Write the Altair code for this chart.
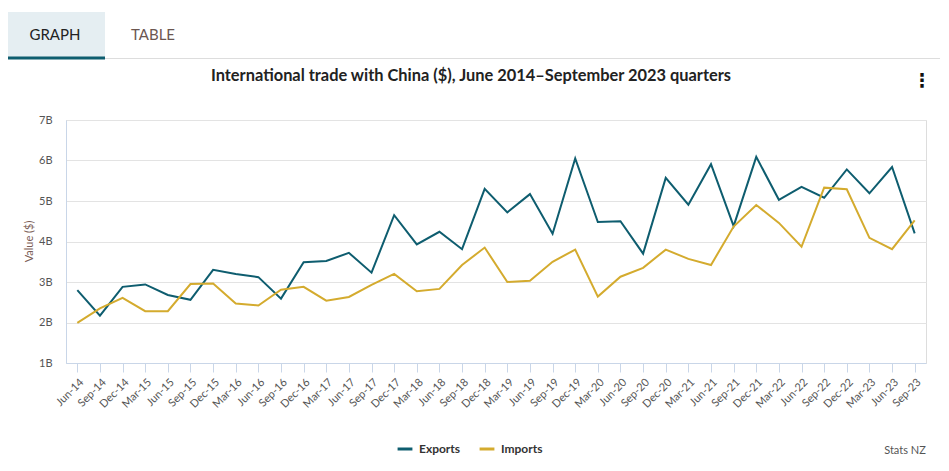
import altair as alt
import pandas as pd

quarters = ["Jun-14","Sep-14","Dec-14","Mar-15","Jun-15","Sep-15","Dec-15","Mar-16","Jun-16","Sep-16",
            "Dec-16","Mar-17","Jun-17","Sep-17","Dec-17","Mar-18","Jun-18","Sep-18","Dec-18","Mar-19",
            "Jun-19","Sep-19","Dec-19","Mar-20","Jun-20","Sep-20","Dec-20","Mar-21","Jun-21","Sep-21",
            "Dec-21","Mar-22","Jun-22","Sep-22","Dec-22","Mar-23","Jun-23","Sep-23"]

exports = [2.80, 2.17, 2.88, 2.94, 2.68, 2.56, 3.30, 3.20, 3.12, 2.59,
           3.49, 3.52, 3.72, 3.23, 4.65, 3.93, 4.24, 3.81, 5.30, 4.72,
           5.17, 4.19, 6.05, 4.48, 4.50, 3.70, 5.57, 4.91, 5.91, 4.38,
           6.09, 5.03, 5.35, 5.08, 5.78, 5.19, 5.84, 4.20]

imports = [1.99, 2.35, 2.61, 2.28, 2.28, 2.95, 2.96, 2.47, 2.42, 2.81,
           2.88, 2.54, 2.63, 2.93, 3.20, 2.77, 2.83, 3.42, 3.85, 3.00,
           3.03, 3.50, 3.80, 2.64, 3.13, 3.35, 3.80, 3.57, 3.42, 4.37,
           4.90, 4.46, 3.87, 5.33, 5.29, 4.09, 3.81, 4.52]

series_names = ["Exports", "Imports"]
series_colors = ["#0e5d6f", "#d4ab2e"]

title_text = "International trade with China ($), June 2014\u2013September 2023 quarters"

df = pd.DataFrame({
    "Quarter": quarters * 2,
    "Value": exports + imports,
    "Series": ["Exports"] * len(quarters) + ["Imports"] * len(quarters),
})

FONT = "Lato"
PL, PT = 66, 120  # plot origin on page (x, y)

lines = alt.Chart(df).mark_line(strokeWidth=2).encode(
    x=alt.X("Quarter:N", sort=quarters, title=None,
            scale=alt.Scale(type="point", padding=0.5),
            axis=alt.Axis(labelAngle=-45, labelFontSize=11, labelColor="#555555",
                          labelFont=FONT, domainColor="#c9d6e8", tickColor="#c9d6e8",
                          tickSize=9, labelPadding=4, grid=False)),
    y=alt.Y("Value:Q", title="Value ($)",
            scale=alt.Scale(domain=[1, 7], nice=False, zero=False),
            axis=alt.Axis(values=[1, 2, 3, 4, 5, 6, 7], labelExpr="datum.value + 'B'",
                          labelFontSize=11, labelColor="#555555", labelFont=FONT,
                          ticks=False, labelPadding=14, domainColor="#c9d6e8",
                          gridColor="#e3e3e3", titleFont=FONT, titleFontSize=11,
                          titleFontWeight="normal", titleColor="#7a5c55",
                          titleX=-32, titleY=121)),
    color=alt.Color("Series:N", sort=series_names,
                    scale=alt.Scale(domain=series_names, range=series_colors),
                    legend=alt.Legend(title=None, orient="none", direction="horizontal",
                                      legendX=330, legendY=320, symbolType="stroke",
                                      symbolStrokeWidth=3, symbolSize=220,
                                      labelFont=FONT, labelFontSize=12, labelFontWeight="bold",
                                      labelColor="#333333", columnPadding=12, labelOffset=5)),
)

one = pd.DataFrame({"a": [0]})

tab_bg = alt.Chart(one).mark_rect(color="#e5eef2").encode(
    x=alt.value(6 - PL), x2=alt.value(105 - PL), y=alt.value(12 - PT), y2=alt.value(57 - PT))
sep = alt.Chart(one).mark_rule(color="#dddddd", strokeWidth=1).encode(
    x=alt.value(105 - PL), x2=alt.value(940 - PL), y=alt.value(58.5 - PT))
underline = alt.Chart(one).mark_rule(color="#0e5d6f", strokeWidth=3).encode(
    x=alt.value(6 - PL), x2=alt.value(105 - PL), y=alt.value(58 - PT))

def label(txt, x, y, size, color, weight="normal", align="center", font=FONT):
    return alt.Chart(pd.DataFrame({"t": [txt]})).mark_text(
        fontSize=size, color=color, fontWeight=weight, align=align, baseline="middle", font=font
    ).encode(x=alt.value(x - PL), y=alt.value(y - PT), text="t:N")

graph_lbl = label("GRAPH", 55, 35, 15, "#222222")
table_lbl = label("TABLE", 153, 35, 15, "#6b5650")
title_lbl = label(title_text, 471, 76, 16.4, "#222222", weight="bold")
menu_lbl = label("\u22ee", 922, 81, 19, "#111111", weight="bold", font="DejaVu Sans")
src_lbl = label("Stats NZ", 905, 451, 11, "#555555")

chart = alt.layer(tab_bg, sep, underline, graph_lbl, table_lbl, title_lbl, menu_lbl,
                  lines, src_lbl).properties(
    width=860, height=243,
    autosize=alt.AutoSizeParams(type="none"),
    padding={"left": PL - 8, "top": PT - 8, "right": 15, "bottom": 96},
).configure_view(stroke=None).configure(font=FONT)

chart.save("out.html", embed_options={"renderer": "svg", "actions": False})
